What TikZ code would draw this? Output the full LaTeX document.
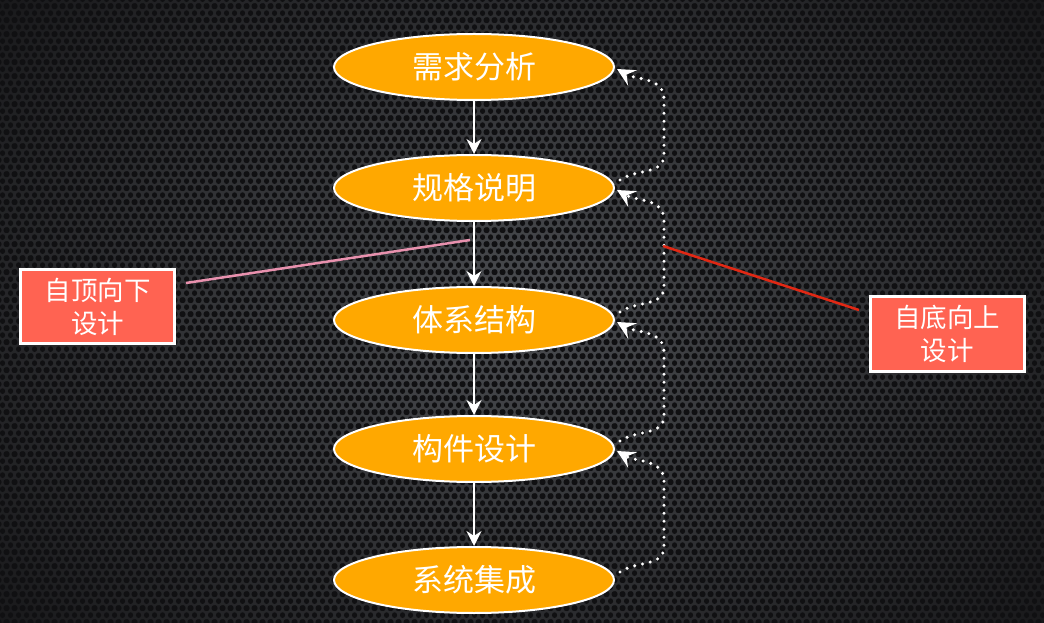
\documentclass[tikz,border=0pt]{standalone}
\usepackage{fontspec}
\newfontfamily\cjk{Noto Sans CJK SC}
\usetikzlibrary{shapes.geometric,arrows.meta,calc,patterns}
\definecolor{bgin}{RGB}{74,76,80}
\definecolor{bgout}{RGB}{22,22,24}
\definecolor{hole}{RGB}{16,16,18}
\definecolor{ellfill}{RGB}{255,168,0}
\definecolor{boxfill}{RGB}{255,99,82}
\definecolor{pinkline}{RGB}{232,145,174}
\definecolor{redline}{RGB}{225,40,20}
\pgfdeclarepatternformonly{hexholes}{\pgfpointorigin}{\pgfpoint{8pt}{13.86pt}}{\pgfpoint{8pt}{13.86pt}}{%
  \pgfpathcircle{\pgfpoint{0pt}{0pt}}{2.9pt}%
  \pgfpathcircle{\pgfpoint{8pt}{0pt}}{2.9pt}%
  \pgfpathcircle{\pgfpoint{0pt}{13.86pt}}{2.9pt}%
  \pgfpathcircle{\pgfpoint{8pt}{13.86pt}}{2.9pt}%
  \pgfpathcircle{\pgfpoint{4pt}{6.93pt}}{2.9pt}%
  \pgfusepath{fill}}
\begin{document}
\begin{tikzpicture}[x=1pt,y=1pt,
  stage/.style={ellipse,draw=white,line width=2pt,fill=ellfill,minimum width=280pt,minimum height=66pt,inner sep=0pt,text=white,font=\cjk\fontsize{31}{36}\selectfont},
  label box/.style={rectangle,draw=white,line width=3pt,fill=boxfill,minimum width=154pt,minimum height=74pt,align=center,text=white,inner sep=2pt,font=\cjk\fontsize{26.5}{33}\selectfont},
  varrow/.style={draw=white,line width=2.2pt,-{Stealth[length=15pt,width=15pt,inset=5pt]}},
  dotline/.style={draw=white,line width=3.4pt,line cap=round,dash pattern=on 0pt off 8pt,-{Stealth[length=18pt,width=18pt,inset=7pt,line width=0pt]}}]
\useasboundingbox (0,0) rectangle (1044,622);
\fill[inner color=bgin,outer color=bgout] (-200,-200) rectangle (1244,822);
\fill[pattern=hexholes,pattern color=hole] (0,0) rectangle (1044,622);

\node[stage] (e1) at (474,555) {需求分析};
\node[stage] (e2) at (474,434) {规格说明};
\node[stage] (e3) at (474,302) {体系结构};
\node[stage] (e4) at (474,173) {构件设计};
\node[stage] (e5) at (474,42) {系统集成};

\draw[varrow] (e1.south) -- (e2.north);
\draw[varrow] (e2.south) -- (e3.north);
\draw[varrow] (e3.south) -- (e4.north);
\draw[varrow] (e4.south) -- (e5.north);

\foreach \lo/\up in {e2/e1,e3/e2,e4/e3,e5/e4}{
  \draw[dotline] ($(\lo.east)+(5,8)$) to[out=35,in=-90] ($(\lo.east)+(49,33)$)
     -- ($(\up.east)+(49,-32)$) to[out=90,in=-30] ($(\up.east)+(2,-2)$);
}

\node[label box] (lbox) at (97.5,315.5) {自顶向下\\设计};
\node[label box] (rbox) at (947,288) {自底向上\\设计};

\coordinate (lstart) at (186,339);
\coordinate (lend) at (470,382);
\coordinate (rstart) at (663,376);
\coordinate (rend) at (859,312);
\draw[pinkline,line width=2.5pt] (lstart) -- (lend);
\draw[redline,line width=2.5pt] (rstart) -- (rend);
\end{tikzpicture}
\end{document}
